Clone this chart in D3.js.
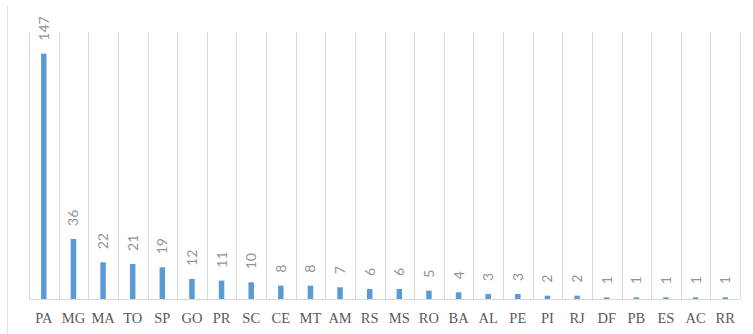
<!DOCTYPE html>
<html>
<head>
<meta charset="utf-8">
<script src="https://cdn.jsdelivr.net/npm/d3@7"></script>
<style>
  body { margin: 0; background: #fff; }
  svg { display: block; }
</style>
</head>
<body>
<div id="chart"></div>
<script>
var states = ["PA", "MG", "MA", "TO", "SP", "GO", "PR", "SC", "CE", "MT", "AM", "RS",
              "MS", "RO", "BA", "AL", "PE", "PI", "RJ", "DF", "PB", "ES", "AC", "RR"];
var counts = [147, 36, 22, 21, 19, 12, 11, 10, 8, 8, 7, 6, 6, 5, 4, 3, 3, 2, 2, 1, 1, 1, 1, 1];
var yDomain = [0, 160];

var width = 753, height = 334;
var margin = {top: 32, right: 13, bottom: 35, left: 29};

var svg = d3.select("#chart").append("svg")
    .attr("width", width)
    .attr("height", height);

// chart frame edge on the left
svg.append("line")
    .attr("x1", 7.5).attr("x2", 7.5)
    .attr("y1", 5).attr("y2", height)
    .attr("stroke", "#e3e3e3");

// title clipped at the top, only the tails of the parentheses show
svg.append("text").attr("x", 366).attr("y", -4)
    .attr("font-family", "Liberation Serif").attr("font-size", 18)
    .attr("fill", "#595959").text("(");
svg.append("text").attr("x", 541).attr("y", -4)
    .attr("font-family", "Liberation Serif").attr("font-size", 18)
    .attr("fill", "#595959").text(")");

var x = d3.scaleBand()
    .domain(states)
    .range([margin.left, width - margin.right]);

var y = d3.scaleLinear()
    .domain(yDomain)
    .range([height - margin.bottom, margin.top]);

var g = svg.append("g");

// vertical gridlines between categories
var edges = states.map(function (s) { return x(s); });
edges.push(x(states[states.length - 1]) + x.bandwidth());
g.selectAll("line.grid").data(edges).enter()
    .append("line")
    .attr("class", "grid")
    .attr("x1", function (d) { return Math.round(d) + 0.5; })
    .attr("x2", function (d) { return Math.round(d) + 0.5; })
    .attr("y1", y(yDomain[1]))
    .attr("y2", y(0))
    .attr("stroke", "#d9d9d9");

// baseline
g.append("line")
    .attr("x1", x.range()[0]).attr("x2", x.range()[1])
    .attr("y1", Math.round(y(0)) + 0.5).attr("y2", Math.round(y(0)) + 0.5)
    .attr("stroke", "#d9d9d9");

var barW = 5.5;
var data = states.map(function (s, i) { return {state: s, value: counts[i]}; });

g.selectAll("rect.bar").data(data).enter()
    .append("rect")
    .attr("class", "bar")
    .attr("x", function (d) { return x(d.state) + x.bandwidth() / 2 - barW / 2; })
    .attr("width", barW)
    .attr("y", function (d) { return y(d.value); })
    .attr("height", function (d) { return y(0) - y(d.value); })
    .attr("fill", "#5b9bd5");

// value labels, rotated
g.selectAll("text.val").data(data).enter()
    .append("text")
    .attr("class", "val")
    .attr("transform", function (d) {
        var cx = x(d.state) + x.bandwidth() / 2 + 5;
        return "translate(" + cx + "," + (y(d.value) - 13) + ") rotate(-90)";
    })
    .attr("font-family", "Lato, 'Open Sans', sans-serif")
    .attr("font-size", 14)
    .attr("fill", "#949494")
    .text(function (d) { return d.value; });

// category labels
g.selectAll("text.cat").data(states).enter()
    .append("text")
    .attr("class", "cat")
    .attr("x", function (d) { return x(d) + x.bandwidth() / 2; })
    .attr("y", 323)
    .attr("text-anchor", "middle")
    .attr("font-family", "'Liberation Serif', serif")
    .attr("font-size", 14.5)
    .attr("fill", "#595959")
    .text(function (d) { return d; });
</script>
</body>
</html>
